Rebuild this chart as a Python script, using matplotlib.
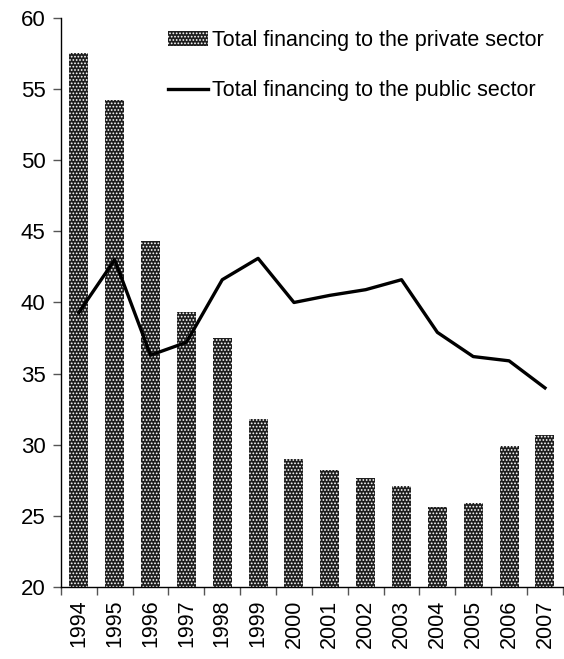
import matplotlib.pyplot as plt
import numpy as np

plt.rcParams['font.family'] = ['Liberation Sans', 'DejaVu Sans']
plt.rcParams['hatch.linewidth'] = 0.8

years = ['1994', '1995', '1996', '1997', '1998', '1999', '2000',
         '2001', '2002', '2003', '2004', '2005', '2006', '2007']
private = [57.5, 54.2, 44.3, 39.3, 37.5, 31.8, 29.0,
           28.2, 27.7, 27.1, 25.6, 25.9, 29.9, 30.7]
public = [39.3, 43.0, 36.3, 37.2, 41.6, 43.1, 40.0,
          40.5, 40.9, 41.6, 37.9, 36.2, 35.9, 34.0]

x = np.arange(len(years))

fig = plt.figure(figsize=(5.64, 6.59), dpi=100)
ax = fig.add_axes([0.108, 0.109, 0.89, 0.864])

# dotted bars: white hatch dots on a dark fill, no outline
bars = ax.bar(x, [v - 20 for v in private], bottom=20, width=0.53,
              color='#1e1e1e', edgecolor='white', hatch='.....', linewidth=0,
              label='Total financing to the private sector')
line, = ax.plot(x, public, color='black', linewidth=2.4,
                label='Total financing to the public sector')

ax.set_ylim(20, 60)
ax.set_xlim(-0.5, len(years) - 0.5)
ax.set_yticks(range(20, 61, 5))
ax.set_xticks(x)
ax.set_xticklabels(years, rotation=90)
ax.set_xticks(np.arange(-0.5, len(years)), minor=True)
ax.tick_params(axis='x', which='major', length=0, pad=9, labelsize=15.5)
ax.tick_params(axis='x', which='minor', length=6, color='#555555', width=1)
ax.tick_params(axis='y', length=6, color='#555555', width=1, labelsize=16, pad=5)

for s in ['top', 'right']:
    ax.spines[s].set_visible(False)
ax.spines['left'].set_linewidth(1)
ax.spines['bottom'].set_linewidth(1)

fig.legend([bars, line], [bars.get_label(), line.get_label()],
           loc='upper left', bbox_to_anchor=(168 / 564, 1 - 30 / 659),
           frameon=False, fontsize=15.5, labelspacing=1.35, handlelength=1.85,
           handletextpad=0.2, borderpad=0, borderaxespad=0)

fig.savefig('out.png', dpi=100)
